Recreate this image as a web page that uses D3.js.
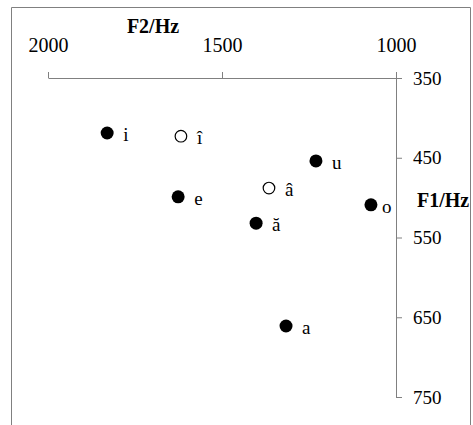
<!DOCTYPE html>
<html>
<head>
<meta charset="utf-8">
<script src="https://cdn.jsdelivr.net/npm/d3@7"></script>
<style>
  html, body { margin: 0; padding: 0; background: #fff; }
  #chart { width: 473px; height: 425px; }
  text { font-family: "Liberation Serif", "Times New Roman", serif; fill: #000; }
</style>
</head>
<body>
<div id="chart"></div>
<script>
// vogais e formantes (Hz)
const vowels = ["i", "î", "e", "â", "ă", "u", "o", "a"];
const f2Values = [1830, 1618, 1626, 1365, 1402, 1230, 1072, 1316];
const f1Values = [419, 423, 499, 488, 532, 454, 509, 661];
const openVowels = ["î", "â"];
const f2Ticks = [2000, 1500, 1000];
const f1Ticks = [350, 450, 550, 650, 750];

function draw() {
  const container = document.getElementById("chart");
  container.innerHTML = "";

  const width = 473;
  const height = 425;
  const axisColor = "#808080";

  const svg = d3.select("#chart")
    .append("svg")
    .attr("width", width)
    .attr("height", height);

  // moldura (aberta em baixo)
  svg.append("path")
    .attr("d", `M11.5,${height} V7.5 H470.5 V${height}`)
    .attr("fill", "none")
    .attr("stroke", axisColor)
    .attr("stroke-width", 1);

  const x = d3.scaleLinear().domain([2000, 1000]).range([48, 396]);
  const y = d3.scaleLinear().domain([350, 750]).range([78, 397]);

  // Eixo F2 (em cima)
  const gx = svg.append("g")
    .attr("transform", `translate(0,${y(350)})`)
    .call(d3.axisTop(x).tickValues(f2Ticks).tickSize(6).tickSizeOuter(0).tickPadding(20).tickFormat(d3.format("d")));
  gx.select(".domain").attr("stroke", axisColor);
  gx.selectAll(".tick line").attr("stroke", axisColor);
  gx.selectAll(".tick text").style("font-size", "20px").attr("fill", "#000");

  // Eixo F1 (à direita)
  const gy = svg.append("g")
    .attr("transform", `translate(${x(1000)},0)`)
    .call(d3.axisRight(y).tickValues(f1Ticks).tickSize(6).tickSizeOuter(0).tickPadding(11).tickFormat(d3.format("d")));
  gy.select(".domain").attr("stroke", axisColor);
  gy.selectAll(".tick line").attr("stroke", axisColor);
  gy.selectAll(".tick text").style("font-size", "19px").attr("fill", "#000");

  // títulos
  svg.append("text")
    .attr("x", 153).attr("y", 33)
    .attr("text-anchor", "middle")
    .style("font-size", "20px").style("font-weight", "bold")
    .text("F2/Hz");
  svg.append("text")
    .attr("x", 417).attr("y", 207)
    .style("font-size", "20px").style("font-weight", "bold")
    .text("F1/Hz");

  const dataset = vowels.map((v, i) => ({ v, f2: f2Values[i], f1: f1Values[i] }));

  const pts = svg.selectAll("g.pt")
    .data(dataset)
    .enter()
    .append("g")
    .attr("class", "pt")
    .attr("transform", d => `translate(${x(d.f2)},${y(d.f1)})`);

  pts.append("circle")
    .attr("r", d => openVowels.includes(d.v) ? 5.8 : 6.5)
    .attr("fill", d => openVowels.includes(d.v) ? "#fff" : "#000")
    .attr("stroke", "#000")
    .attr("stroke-width", d => openVowels.includes(d.v) ? 1.2 : 0);

  pts.append("text")
    .attr("x", d => d.v === "o" ? 11 : 16)
    .attr("y", 8)
    .style("font-size", "19px")
    .text(d => d.v);
}

draw();
</script>
</body>
</html>
